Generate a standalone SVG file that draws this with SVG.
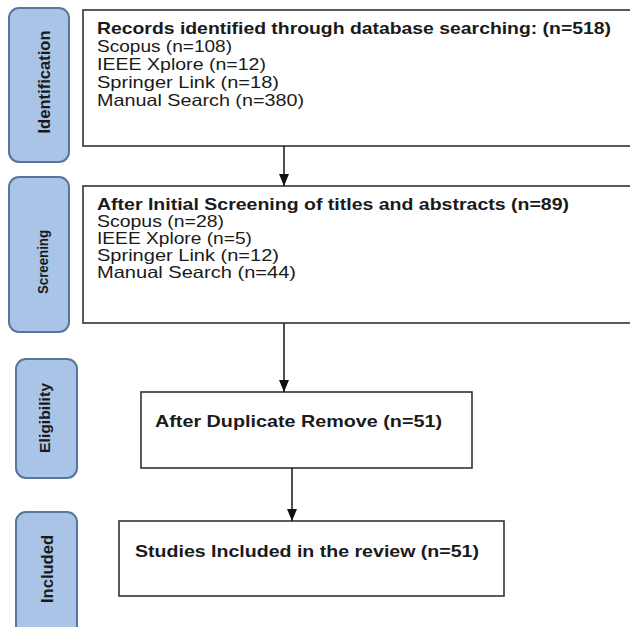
<svg xmlns="http://www.w3.org/2000/svg" width="630" height="627" viewBox="0 0 630 627">
<style>
.stage{fill:#a9c4e6;stroke:#56769c;stroke-width:2}
.box{fill:#ffffff;stroke:#333333;stroke-width:1.6}
.st{font-family:"Liberation Sans",Arial,sans-serif;font-weight:bold;fill:#1a1a1a;text-anchor:middle}
.t{font-family:"Liberation Sans",Arial,sans-serif;font-size:16.5px;fill:#1a1a1a}
.b{font-weight:bold}
.conn{stroke:#222222;stroke-width:1.6;fill:none}
</style>
<defs>
<marker id="ah" markerWidth="12" markerHeight="10" refX="12" refY="5" orient="auto" markerUnits="userSpaceOnUse">
<path d="M0,0 L12,5 L0,10 Z" fill="#111111"/>
</marker>
</defs>
<rect width="630" height="627" fill="#ffffff"/>
<g id="stage-identification">
<rect class="stage" x="9" y="8" width="60" height="154" rx="10"/>
<text class="st" font-size="16.5" transform="translate(50,82) rotate(-90)" textLength="103" lengthAdjust="spacingAndGlyphs">Identification</text>
</g>
<g id="stage-screening">
<rect class="stage" x="9" y="177" width="60" height="155" rx="10"/>
<text class="st" font-size="14.5" transform="translate(48,262) rotate(-90)" textLength="64" lengthAdjust="spacingAndGlyphs">Screening</text>
</g>
<g id="stage-eligibility">
<rect class="stage" x="16" y="359" width="61" height="119" rx="10"/>
<text class="st" font-size="15.5" transform="translate(50,418) rotate(-90)" textLength="70" lengthAdjust="spacingAndGlyphs">Eligibility</text>
</g>
<g id="stage-included">
<rect class="stage" x="16" y="512" width="61" height="125" rx="10"/>
<text class="st" font-size="16.5" transform="translate(53,569) rotate(-90)" textLength="68" lengthAdjust="spacingAndGlyphs">Included</text>
</g>
<g id="box-identified">
<rect class="box" x="83" y="10" width="560" height="136"/>
<text class="t b" x="97" y="34" textLength="514" lengthAdjust="spacingAndGlyphs">Records identified through database searching: (n=518)</text>
<text class="t" x="97" y="52" textLength="135" lengthAdjust="spacingAndGlyphs">Scopus (n=108)</text>
<text class="t" x="97" y="70" textLength="169" lengthAdjust="spacingAndGlyphs">IEEE Xplore (n=12)</text>
<text class="t" x="97" y="88" textLength="182" lengthAdjust="spacingAndGlyphs">Springer Link (n=18)</text>
<text class="t" x="97" y="106" textLength="207" lengthAdjust="spacingAndGlyphs">Manual Search (n=380)</text>
</g>
<g id="box-screening">
<rect class="box" x="83" y="186" width="560" height="137"/>
<text class="t b" x="97" y="210" textLength="472" lengthAdjust="spacingAndGlyphs">After Initial Screening of titles and abstracts (n=89)</text>
<text class="t" x="97" y="227" textLength="127" lengthAdjust="spacingAndGlyphs">Scopus (n=28)</text>
<text class="t" x="97" y="244" textLength="155" lengthAdjust="spacingAndGlyphs">IEEE Xplore (n=5)</text>
<text class="t" x="97" y="261" textLength="182" lengthAdjust="spacingAndGlyphs">Springer Link (n=12)</text>
<text class="t" x="97" y="278" textLength="199" lengthAdjust="spacingAndGlyphs">Manual Search (n=44)</text>
</g>
<g id="box-eligibility">
<rect class="box" x="141" y="392" width="331" height="76"/>
<text class="t b" x="155" y="427" textLength="287" lengthAdjust="spacingAndGlyphs">After Duplicate Remove (n=51)</text>
</g>
<g id="box-included">
<rect class="box" x="119" y="521" width="385" height="75"/>
<text class="t b" x="135" y="557" textLength="344" lengthAdjust="spacingAndGlyphs">Studies Included in the review (n=51)</text>
</g>
<g id="connectors">
<line class="conn" x1="284" y1="146" x2="284" y2="186" marker-end="url(#ah)"/>
<line class="conn" x1="284" y1="323" x2="284" y2="392" marker-end="url(#ah)"/>
<line class="conn" x1="292" y1="468" x2="292" y2="521" marker-end="url(#ah)"/>
</g>
</svg>
